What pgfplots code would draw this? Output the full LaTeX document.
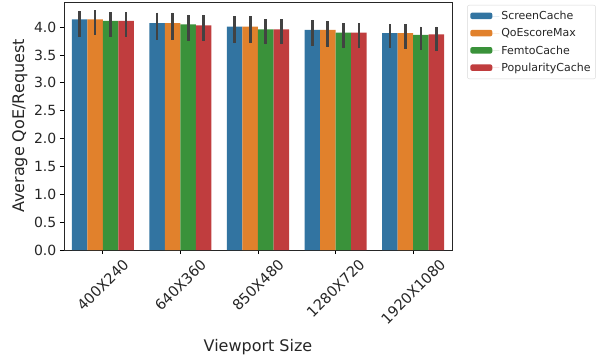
\documentclass[border=0pt]{standalone}
\usepackage{pgfplots}
\pgfplotsset{compat=1.18}
\usepackage{pgfplotstable}
\usepackage{fontspec}
\setmainfont{DejaVu Sans}
\definecolor{cblue}{HTML}{3274A1}
\definecolor{corange}{HTML}{E1812C}
\definecolor{cgreen}{HTML}{3A923A}
\definecolor{cred}{HTML}{C03D3E}
\definecolor{errgray}{HTML}{424242}

\pgfplotstableread{
x y ep em
0 4.14 0.15 0.31
1 4.07 0.19 0.30
2 4.01 0.18 0.30
3 3.95 0.18 0.29
4 3.89 0.16 0.26
}\screen
\pgfplotstableread{
x y ep em
0 4.14 0.16 0.28
1 4.07 0.19 0.30
2 4.01 0.19 0.30
3 3.95 0.16 0.30
4 3.89 0.16 0.28
}\qoe
\pgfplotstableread{
x y ep em
0 4.11 0.16 0.28
1 4.05 0.17 0.30
2 3.96 0.18 0.27
3 3.90 0.17 0.28
4 3.86 0.15 0.27
}\femto
\pgfplotstableread{
x y ep em
0 4.11 0.16 0.28
1 4.03 0.19 0.28
2 3.96 0.18 0.27
3 3.90 0.17 0.28
4 3.87 0.14 0.30
}\popu

\begin{document}
\begin{tikzpicture}
\path[use as bounding box] (-64bp,-111bp) rectangle (532bp,250bp);
\begin{axis}[
  at={(0,0)}, anchor=south west,
  scale only axis, width=388bp, height=248bp,
  xmin=-0.5, xmax=4.5, ymin=0, ymax=4.45,
  ybar, bar width=0.2,
  xtick={0,1,2,3,4},
  xticklabels={\rotatebox{45}{400X240},\rotatebox{45}{640X360},\rotatebox{45}{850X480},\rotatebox{45}{1280X720},\rotatebox{45}{1920X1080}},
  ytick={0,0.5,1,1.5,2,2.5,3,3.5,4},
  yticklabels={0.0,0.5,1.0,1.5,2.0,2.5,3.0,3.5,4.0},
  tick align=outside, major tick length=4bp,
  xtick pos=lower, ytick pos=left,
  tick style={black, line width=0.8bp},
  axis line style={line width=0.8bp, black!85},
  ticklabel style={text=black!85},
  xticklabel style={font=\fontsize{14.5bp}{17bp}\selectfont, anchor=north, inner sep=0pt, yshift=-4bp},
  yticklabel style={font=\fontsize{14bp}{16bp}\selectfont, anchor=east, inner sep=0pt, xshift=-3.5bp},
  /pgf/number format/assume math mode=true,
  xlabel={Viewport Size}, ylabel={Average QoE/Request},
  label style={font=\fontsize{16bp}{19bp}\selectfont, text=black!85},
  xlabel style={yshift=-11bp},
  ylabel style={yshift=3bp},
  legend style={at={(1.039,0.988)}, anchor=north west,
    font=\fontsize{11bp}{13bp}\selectfont, draw=black!15, rounded corners=2bp,
    inner xsep=3bp, inner ysep=4bp, row sep=3.5bp, text=black!85},
  legend cell align=left,
  legend image code/.code={\fill[#1] (0bp,-3bp) rectangle (22bp,3.5bp); \path (0bp,0bp) -- (29bp,0bp);},
  error bars/y dir=both, error bars/y explicit,
  error bars/error mark=none,
  error bars/error bar style={line width=2.7bp, color=errgray},
]
\addplot+[bar shift=-0.3, fill=cblue, draw=none] table[x=x, y=y, y error plus=ep, y error minus=em] {\screen};
\addplot+[bar shift=-0.1, fill=corange, draw=none] table[x=x, y=y, y error plus=ep, y error minus=em] {\qoe};
\addplot+[bar shift=0.1, fill=cgreen, draw=none] table[x=x, y=y, y error plus=ep, y error minus=em] {\femto};
\addplot+[bar shift=0.3, fill=cred, draw=none] table[x=x, y=y, y error plus=ep, y error minus=em] {\popu};
\legend{ScreenCache, QoEscoreMax, FemtoCache, PopularityCache}
\end{axis}
\end{tikzpicture}
\end{document}
